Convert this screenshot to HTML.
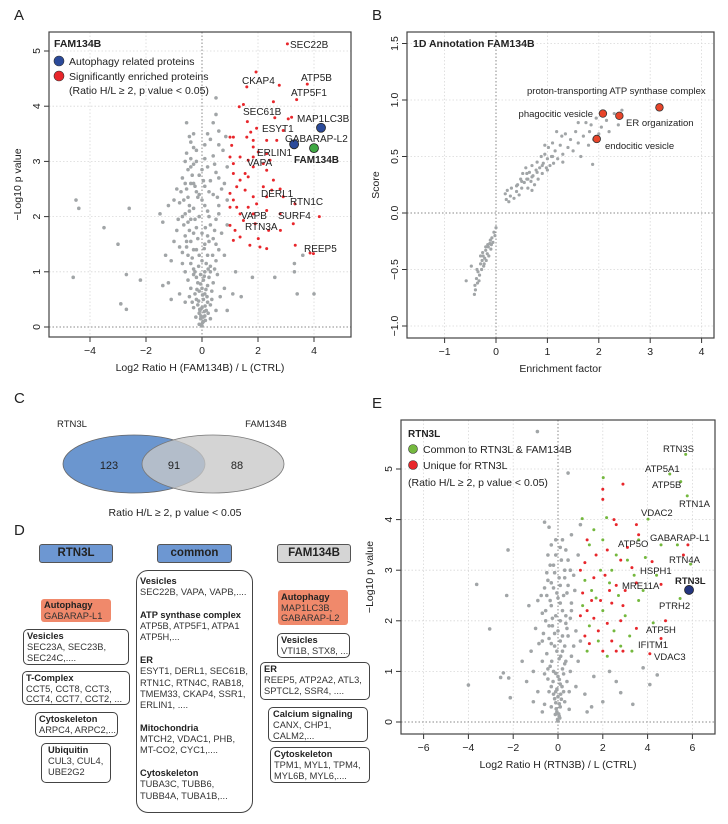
<!DOCTYPE html>
<html><head><meta charset="utf-8">
<style>
body{margin:0;background:#fff;}
#wrap{position:relative;width:728px;height:824px;overflow:hidden;font-family:"Liberation Sans",sans-serif;color:#222;}
svg{position:absolute;left:0;top:0;}
.bx{position:absolute;box-sizing:border-box;border:1px solid #444;border-radius:5px;font-size:9.3px;line-height:11.2px;padding:1px 3px;color:#333;background:#fff;white-space:nowrap;}
.bx b{color:#222;}
.hd{position:absolute;box-sizing:border-box;border:1px solid #555;border-radius:3px;font-weight:bold;font-size:11.5px;text-align:center;line-height:17px;color:#222;}
.au{background:#f0896b;border:none;border-radius:3px;}
</style></head><body>
<div id="wrap">
<svg id="svg" width="728" height="824"></svg>

<div class="hd" style="left:39px;top:544px;width:74px;height:19px;background:#6d97d2;">RTN3L</div>
<div class="hd" style="left:157px;top:544px;width:75px;height:19px;background:#6d97d2;">common</div>
<div class="hd" style="left:277px;top:544px;width:74px;height:19px;background:#d5d5d5;">FAM134B</div>

<div class="bx au" style="left:41px;top:599px;width:70px;height:23px;line-height:10.5px;"><b>Autophagy</b><br>GABARAP-L1</div>
<div class="bx" style="left:23px;top:629px;width:106px;height:36px;line-height:10.8px;"><b>Vesicles</b><br>SEC23A, SEC23B,<br>SEC24C,....</div>
<div class="bx" style="left:22px;top:671px;width:108px;height:34px;line-height:10.5px;"><b>T-Complex</b><br>CCT5, CCT8, CCT3,<br>CCT4, CCT7, CCT2, ...</div>
<div class="bx" style="left:35px;top:712px;width:83px;height:25px;line-height:10.5px;"><b>Cytoskeleton</b><br>ARPC4, ARPC2,...</div>
<div class="bx" style="left:41px;top:743px;width:70px;height:40px;padding-left:6px;"><b>Ubiquitin</b><br>CUL3, CUL4,<br>UBE2G2</div>

<div class="bx" style="left:136px;top:570px;width:117px;height:243px;border-radius:12px;padding:5px 3px;line-height:11.3px;"><b>Vesicles</b><br>SEC22B, VAPA, VAPB,....<br><br><b>ATP synthase complex</b><br>ATP5B, ATP5F1, ATPA1<br>ATP5H,...<br><br><b>ER</b><br>ESYT1, DERL1, SEC61B,<br>RTN1C, RTN4C, RAB18,<br>TMEM33, CKAP4, SSR1,<br>ERLIN1, ....<br><br><b>Mitochondria</b><br>MTCH2, VDAC1, PHB,<br>MT-CO2, CYC1,....<br><br><b>Cytoskeleton</b><br>TUBA3C, TUBB6,<br>TUBB4A, TUBA1B,...</div>

<div class="bx au" style="left:278px;top:590px;width:70px;height:35px;line-height:10.5px;padding-top:2px;"><b>Autophagy</b><br>MAP1LC3B,<br>GABARAP-L2</div>
<div class="bx" style="left:277px;top:633px;width:73px;height:25px;line-height:10.5px;"><b>Vesicles</b><br>VTI1B, STX8, ....</div>
<div class="bx" style="left:260px;top:662px;width:110px;height:38px;"><b>ER</b><br>REEP5, ATP2A2, ATL3,<br>SPTCL2, SSR4, ....</div>
<div class="bx" style="left:268px;top:707px;width:100px;height:35px;line-height:10.8px;padding-left:4px;"><b>Calcium signaling</b><br>CANX, CHP1,<br>CALM2,...</div>
<div class="bx" style="left:270px;top:747px;width:100px;height:36px;line-height:10.8px;"><b>Cytoskeleton</b><br>TPM1, MYL1, TPM4,<br>MYL6B, MYL6,....</div>
</div>

<script>
// ---------- Panel A data ----------
const aXTicks=[-4,-2,0,2,4];
const aYTicks=[0,1,2,3,4,5];
const aGray=[[0,0.02],[0.05,0.1],[-0.05,0.15],[0.1,0.2],[-0.1,0.25],[0.15,0.3],[0,0.35],[-0.15,0.4],[0.2,0.45],[0.05,0.5],[-0.2,0.5],[0.3,0.4],[-0.3,0.35],[0.5,0.3],[0.9,0.3],[-0.6,0.45],[0.3,0.15],[-0.1,0.05],[0.08,0.28],[0.02,0.08],[-0.04,0.2],[0.12,0.12],[-0.08,0.32],
[-0.25,0.6],[0.1,0.6],[0.35,0.65],[-0.4,0.7],[0,0.7],[0.2,0.75],[-0.15,0.8],[0.4,0.8],[-0.5,0.85],[0.05,0.85],[0.25,0.9],[-0.3,0.95],[0.55,0.95],[0.1,1.0],[-0.6,1.0],[-1.2,0.8],[-2.2,0.85],[-1.1,0.5],[0.8,0.7],[1.1,0.6],[-0.8,0.6],[0.65,0.55],[-0.45,0.55],[-0.1,0.65],[0.18,0.55],[-0.2,0.9],[0.3,1.0],[-0.05,0.95],
[-0.3,1.05],[0.3,1.1],[-0.7,1.15],[0.0,1.2],[0.5,1.2],[-0.5,1.3],[0.2,1.3],[-0.2,1.4],[0.6,1.4],[-0.8,1.45],[0.1,1.5],[-0.4,1.55],[0.4,1.6],[-0.6,1.65],[0.0,1.7],[0.7,1.7],[-0.9,1.75],[-0.2,1.8],[0.3,1.85],[-0.5,1.9],[0.5,1.95],[-0.1,2.0],[-1.0,1.55],[0.8,1.3],[-1.3,1.3],[0.9,1.85],[-0.7,2.0],[1.2,1.0],[2.6,0.9],[3.3,1.0],[3.6,1.3],[4.0,0.6],[-1.4,1.9],[-0.35,1.25],[0.15,1.15],[-0.55,1.45],[0.25,1.55],[-0.3,1.7],[0.45,1.75],[-0.4,1.95],
[-0.6,2.05],[0.2,2.1],[-0.3,2.15],[0.6,2.2],[-0.8,2.25],[0.0,2.3],[-0.5,2.35],[0.4,2.4],[-0.2,2.45],[-0.9,2.5],[0.7,2.5],[0.1,2.55],[-0.4,2.6],[0.3,2.65],[-0.7,2.7],[-0.1,2.75],[0.5,2.8],[-0.5,2.85],[0.2,2.9],[-0.3,2.95],[0.8,2.6],[-1.0,2.3],[0.9,2.9],[-0.6,3.0],[-0.45,2.2],[0.55,2.35],[-0.25,2.55],[0.6,2.7],
[-0.4,3.05],[0.4,3.1],[-0.2,3.2],[0.6,3.3],[-0.4,3.35],[0.3,3.4],[-0.3,3.5],[0.6,3.55],[-0.55,3.7],[0.5,3.85],[0.4,3.7],[0.5,4.15],[0.1,3.3],[-0.1,2.4],[0.75,3.2],[0.85,3.45],
[-4.6,0.9],[-4.5,2.3],[-4.4,2.15],[-3.5,1.8],[-3.0,1.5],[-2.6,2.15],[-2.7,0.95],[-2.9,0.42],[-2.7,0.32],[-1.5,2.05],[-1.4,0.75],[-1.2,2.2],[-1.1,1.2],[0.9,2.3],[3.4,0.6],[1.4,0.55],[3.3,1.15],[1.8,0.9]];
const aCore=[[-0.02,0.04],[0.04,0.18],[-0.07,0.3],[0.11,0.38],[-0.12,0.47],[0.02,0.58],[-0.18,0.68],[0.14,0.68],[-0.05,0.78],[0.08,0.92],[-0.25,1.0],[0.22,1.05],[-0.12,1.1],[-0.4,1.15],[0.38,1.3],[-0.1,1.3],[-0.3,1.4],[0.08,1.42],[-0.55,1.55],[-0.15,1.6],[0.2,1.65],[-0.45,1.75],[0.12,1.8],[-0.65,1.85],[-0.25,1.95],[0.25,2.0],[-0.45,2.1],[0.1,2.2],[-0.65,2.3],[-0.15,2.35],[0.25,2.45],[-0.55,2.5],[-0.3,2.6],[0.05,2.65],[-0.6,2.6],[-0.35,2.75],[0.0,2.85],[-0.4,2.9],[-0.2,3.0],[0.1,3.05],[-0.55,3.15],[-0.3,3.25],[0.2,3.5],[-0.45,3.45],[0.45,2.95],[0.6,2.05],[0.5,1.5],[0.45,1.05],[-0.7,1.35],[-0.85,1.95],[-0.75,2.45],[0.35,0.5],[-0.35,0.45],[0.22,0.25],[-0.22,0.18]];
const aRed=[[3.05,5.13],[1.93,4.62],[1.6,4.35],[2.76,4.38],[3.38,4.12],[3.76,4.4],[2.55,4.08],[1.33,3.99],[1.48,4.03],[2.6,3.79],[3.08,3.77],[3.2,3.8],[1.62,3.72],[1.95,3.6],[1.74,3.53],[2.9,3.56],[1.0,3.44],[1.12,3.44],[1.6,3.44],[1.83,3.38],[2.31,3.38],[2.67,3.38],[1.06,3.29],[1.83,3.26],[2.01,3.17],[2.31,3.14],[1.0,3.08],[1.36,3.08],[2.43,3.02],[1.65,3.02],[2.19,2.96],[1.83,2.9],[2.31,2.84],[1.12,2.96],[1.54,2.78],[1.12,2.78],[1.36,2.66],[1.65,2.72],[1.24,2.54],[1.0,2.42],[1.54,2.48],[2.19,2.54],[2.49,2.48],[2.79,2.5],[1.12,2.3],[1.0,2.17],[1.83,2.36],[2.31,2.36],[2.9,2.36],[3.32,2.23],[1.36,2.05],[1.83,2.05],[2.31,2.11],[2.79,2.05],[4.19,2.0],[1.0,1.84],[1.48,1.93],[1.9,1.87],[2.38,1.75],[2.8,1.75],[3.26,1.87],[1.12,1.57],[1.36,1.63],[1.71,1.48],[2.01,1.6],[2.31,1.42],[3.33,1.48],[3.86,1.34],[3.98,1.33],[1.18,1.75],[2.07,1.45],[1.95,2.23],[1.65,2.17],[1.24,2.17],[2.55,2.66],[1.83,3.08]];
const aBlue=[[3.29,3.31],[4.25,3.61]];
const aGreen=[[4.0,3.24]];
const aLabels=[["SEC22B",290,48],["CKAP4",242,84],["ATP5B",301,81],["ATP5F1",291,96],["SEC61B",243,115],["MAP1LC3B",297,122],["ESYT1",262,132],["GABARAP-L2",285,142],["ERLIN1",257,156],["VAPA",247,166],["DERL1",261,197],["RTN1C",290,205],["SURF4",278,219],["VAPB",241,219],["RTN3A",245,230],["REEP5",304,252]];
// ---------- Panel B data ----------
const bXTicks=[-1,0,1,2,3,4];
const bYTicks=[-1.0,-0.5,0.0,0.5,1.0,1.5];
const bGray=[[-0.58,-0.6],[-0.48,-0.47],[-0.42,-0.72],[-0.4,-0.68],[-0.38,-0.58],[-0.36,-0.62],[-0.35,-0.52],[-0.32,-0.55],[-0.3,-0.45],[-0.28,-0.5],[-0.27,-0.42],[-0.25,-0.38],[-0.24,-0.47],[-0.22,-0.4],[-0.2,-0.33],[-0.19,-0.42],[-0.17,-0.36],[-0.15,-0.3],[-0.14,-0.38],[-0.12,-0.27],[-0.1,-0.32],[-0.08,-0.22],[-0.06,-0.26],[-0.04,-0.17],[-0.02,-0.2],[0.0,-0.13],[-0.33,-0.6],[-0.26,-0.35],[-0.16,-0.28],[-0.11,-0.24],[-0.37,-0.5],[-0.3,-0.38],[-0.2,-0.3],[-0.09,-0.28],[-0.23,-0.45],[-0.41,-0.64],
[0.18,0.17],[0.2,0.12],[0.22,0.2],[0.25,0.1],[0.28,0.15],[0.3,0.22],[0.35,0.13],[0.4,0.19],[0.42,0.25],[0.45,0.16],[0.48,0.3],[0.5,0.22],[0.52,0.35],[0.55,0.27],[0.58,0.4],[0.6,0.3],[0.62,0.22],[0.65,0.36],[0.68,0.28],[0.7,0.42],[0.72,0.33],[0.75,0.25],[0.78,0.38],[0.8,0.45],[0.82,0.3],[0.85,0.4],[0.88,0.5],[0.9,0.35],[0.92,0.44],[0.95,0.52],[0.98,0.4],[1.0,0.48],[1.02,0.58],[1.05,0.42],[1.08,0.5],[1.1,0.62],[1.12,0.44],[1.15,0.55],[1.18,0.72],[1.2,0.48],[1.25,0.6],[1.28,0.68],[1.3,0.52],[1.35,0.7],[1.4,0.58],[1.45,0.65],[1.5,0.55],[1.55,0.72],[1.6,0.62],[1.65,0.5],[1.7,0.68],[1.75,0.8],[1.8,0.6],[1.82,0.72],[1.85,0.78],[1.88,0.43],[1.9,0.65],[1.95,0.84],[2.0,0.7],[2.05,0.76],[2.15,0.82],[2.2,0.72],[2.3,0.88],[2.38,0.78],[2.45,0.91],[1.0,0.38],[0.7,0.2],[1.3,0.45],[1.6,0.8],[0.95,0.6],[0.6,0.35],[0.7,0.32],[0.8,0.36],[0.5,0.28],[0.4,0.24],[0.62,0.3],[0.9,0.42],[1.1,0.5]];
const bRed=[[2.08,0.88],[2.4,0.86],[1.96,0.655],[3.18,0.935]];
// ---------- Panel E data ----------
const eXTicks=[-6,-4,-2,0,2,4,6];
const eYTicks=[0,1,2,3,4,5];
const eGray=[[0,0.02],[0.05,0.12],[-0.05,0.2],[0.1,0.3],[-0.1,0.38],[0.15,0.45],[0,0.5],[-0.2,0.55],[0.25,0.6],[-0.05,0.65],[0.3,0.4],[-0.3,0.3],[0.5,0.25],[-0.6,0.35],[0.08,0.08],[-0.12,0.15],
[-0.3,0.7],[0.1,0.75],[0.4,0.8],[-0.45,0.85],[0,0.9],[0.25,0.95],[-0.2,1.0],[0.55,1.0],[-0.6,0.95],[0.8,0.7],[-0.9,0.6],[-1.1,0.4],[1.2,0.55],[1.5,0.3],[-0.7,0.2],
[-0.35,1.1],[0.3,1.15],[-0.7,1.2],[0.05,1.25],[0.6,1.3],[-0.5,1.35],[0.2,1.4],[-0.15,1.5],[0.7,1.5],[-0.85,1.55],[0.1,1.6],[-0.4,1.65],[0.45,1.7],[-0.65,1.75],[0.0,1.8],[0.8,1.8],[-1.0,1.85],[-0.25,1.9],[0.35,1.95],[-0.55,2.0],[0.55,2.05],[-1.2,1.4],[0.9,1.2],[-1.4,0.8],[1.0,1.6],
[-0.1,2.1],[-0.7,2.15],[0.2,2.2],[-0.3,2.3],[0.6,2.35],[-0.9,2.4],[0.0,2.45],[-0.5,2.5],[0.4,2.55],[-0.2,2.65],[0.75,2.6],[0.1,2.7],[-0.45,2.8],[0.3,2.85],[-0.15,2.95],[0.55,3.0],[-0.35,3.1],[0.15,3.2],[-0.1,3.3],[0.35,3.4],[-0.3,3.5],[0.2,3.6],[0.6,3.7],[-0.4,3.85],[0.9,3.3],[1.0,3.9],[-1.3,2.3],[-1.1,1.0],
[-3.63,2.72],[-2.23,3.4],[-2.29,2.5],[-3.05,1.84],[-0.92,5.74],[0.45,4.92],[-4.0,0.73],[-2.44,0.97],[-2.56,0.88],[-2.2,0.87],[-2.13,0.48],[4.43,0.93],[4.1,0.74],[3.34,0.35],[2.8,0.58],[3.8,1.07],[-0.6,3.95],[1.6,0.9],[2.0,0.4],[2.3,1.0],[1.3,0.2],[-1.6,1.2],[2.6,0.8]];
const eCore=[[-0.02,0.05],[0.03,0.16],[-0.08,0.26],[0.06,0.36],[-0.15,0.46],[0.12,0.55],[-0.1,0.6],[0.18,0.7],[-0.22,0.8],[0.06,0.84],[-0.1,0.96],[0.2,1.05],[-0.28,1.2],[0.12,1.3],[-0.05,1.4],[0.3,1.5],[-0.3,1.55],[0.2,1.7],[-0.15,1.75],[0.4,1.85],[-0.4,1.9],[0.1,2.0],[-0.25,2.05],[0.35,2.1],[-0.55,2.2],[0.1,2.35],[-0.35,2.4],[0.25,2.5],[-0.05,2.55],[-0.6,2.65],[0.45,2.7],[-0.3,2.75],[0.05,2.85],[-0.5,2.95],[0.3,3.0],[-0.2,3.1],[0.45,3.2],[-0.45,3.3],[0.1,3.45],[-0.1,3.6],[0.35,1.2],[-0.45,1.05],[0.5,0.6],[-0.4,0.6],[0.6,2.2],[-0.7,1.6],[0.7,2.9],[-0.75,2.5]];
const eGreen=[[5.7,5.29],[4.99,4.9],[5.48,4.75],[5.77,4.47],[4.02,4.01],[2.02,4.83],[1.08,4.02],[2.17,4.04],[5.33,3.5],[5.92,3.12],[5.45,2.44],[4.25,1.96],[1.6,3.8],[2.0,3.6],[1.4,3.5],[2.6,3.3],[3.1,3.2],[1.9,3.0],[1.2,2.8],[2.3,2.75],[3.4,2.9],[1.5,2.6],[2.7,2.5],[3.6,2.4],[1.1,2.3],[2.0,2.2],[3.0,2.1],[1.4,1.9],[2.5,1.8],[3.2,1.7],[1.8,1.6],[2.8,1.5],[3.3,1.4],[1.3,1.4],[2.2,1.3],[3.6,3.6],[4.6,3.5],[4.4,2.9],[3.8,2.6],[1.7,2.45],[2.4,3.0],[3.9,3.25]];
const eRed=[[2.0,4.6],[2.9,4.7],[2.0,4.4],[2.5,4.0],[2.6,3.9],[3.5,3.9],[3.6,3.7],[5.8,3.5],[5.6,3.3],[4.2,3.17],[4.6,2.72],[4.8,2.0],[4.6,1.65],[4.1,1.35],[3.5,1.85],[1.0,3.0],[1.3,3.6],[1.7,3.3],[2.2,3.4],[2.8,3.2],[3.3,3.05],[1.2,3.15],[1.6,2.85],[2.1,2.9],[2.6,2.7],[3.0,2.6],[1.1,2.55],[1.5,2.4],[1.9,2.4],[2.4,2.35],[2.9,2.3],[1.0,2.1],[1.6,2.05],[2.2,1.95],[2.8,2.0],[1.2,1.7],[1.8,1.8],[2.4,1.6],[1.4,1.55],[2.0,1.4],[2.6,1.4],[2.9,1.4],[3.1,3.45],[2.3,2.6],[3.5,2.75],[1.3,2.2]];
const eBlue=[[5.85,2.61]];
const eLabels=[["RTN3S",663,452],["ATP5A1",645,472],["ATP5B",652,488],["RTN1A",679,507],["VDAC2",641,516],["GABARAP-L1",650,541],["ATP5O",618,547],["RTN4A",669,563],["HSPH1",640,574],["MRE11A",622,589],["PTRH2",659,609],["ATP5H",646,633],["IFITM1",638,648],["VDAC3",654,660]];

const NS="http://www.w3.org/2000/svg";
const svg=document.getElementById('svg');
function el(tag,attrs,parent){const e=document.createElementNS(NS,tag);for(const k in attrs)e.setAttribute(k,attrs[k]);(parent||svg).appendChild(e);return e;}
function txt(s,x,y,opt,parent){const t=el('text',Object.assign({x:x,y:y,'font-family':'Liberation Sans, sans-serif','font-size':10.5,fill:'#222'},opt||{}),parent);t.textContent=s;return t;}

function panel(cfg){
  const g=el('g',{});
  
  
  const sx=v=>cfg.x0+v*cfg.kx, sy=v=>cfg.y0-v*cfg.ky;
  cfg.xt.forEach(v=>{const l=el('line',{x1:sx(v),x2:sx(v),y1:cfg.top,y2:cfg.bot,stroke:v===0?'#888':'#d8d8d8','stroke-dasharray':'1.5,2','stroke-width':v===0?1:0.8},g);});
  cfg.yt.forEach(v=>{const l=el('line',{x1:cfg.left,x2:cfg.right,y1:sy(v),y2:sy(v),stroke:v===0?'#888':'#d8d8d8','stroke-dasharray':'1.5,2','stroke-width':v===0?1:0.8},g);});
  cfg.xt.forEach(v=>{el('line',{x1:sx(v),x2:sx(v),y1:cfg.bot,y2:cfg.bot+5,stroke:'#333'},g);
    const t=txt(String(v).replace('-','−'),sx(v),cfg.bot+17,{'text-anchor':'middle'},g);});
  cfg.yt.forEach(v=>{el('line',{x1:cfg.left-5,x2:cfg.left,y1:sy(v),y2:sy(v),stroke:'#333'},g);
    const s=(cfg.yfmt?v.toFixed(1):String(v)).replace('-','−');
    const t=txt(s,cfg.left-9,sy(v),{'text-anchor':'middle',transform:`rotate(-90 ${cfg.left-9} ${sy(v)})`},g);});
  const pts=(arr,fill,r,name,stroke)=>arr.forEach(p=>{const c=el('circle',{cx:sx(p[0]),cy:sy(p[1]),r:r,fill:fill,stroke:stroke||'none','stroke-width':0.8},g);});
  cfg.series.forEach(s=>pts(s[0],s[1],s[2],s[3],s[4]));
  const b=el('rect',{x:cfg.left,y:cfg.top,width:cfg.right-cfg.left,height:cfg.bot-cfg.top,fill:'none',stroke:'#444','stroke-width':1.2},g);
  
  const xt=txt(cfg.xtitle,(cfg.left+cfg.right)/2,cfg.bot+34,{'text-anchor':'middle'},g);
  const yx=cfg.left-28,yy=(cfg.top+cfg.bot)/2;
  const yt=txt(cfg.ytitle,yx,yy,{'text-anchor':'middle',transform:`rotate(-90 ${yx} ${yy})`},g);
  return g;
}
const GR='#a1a5a7',RD='#e8262b',GN='#74b83e',BL='#2b4a9a';
panel({name:'panel-a-volcano',x0:202,kx:28,y0:327,ky:55.2,left:49,right:351,top:32,bot:337,xt:aXTicks,yt:aYTicks,
  xtitle:'Log2 Ratio H (FAM134B) / L (CTRL)',ytitle:'−Log10 p value',
  series:[[aGray,GR,1.8,'gray-point'],[aCore,GR,1.8,'gray-point'],[aRed,RD,1.5,'red-point'],[aBlue,BL,4.5,'autophagy-point','#222'],[aGreen,'#3fa843',4.5,'fam134b-point','#222']]});
panel({name:'panel-b-annotation',x0:496,kx:51.4,y0:213,ky:113,left:407,right:714,top:32,bot:338,xt:bXTicks,yt:bYTicks,yfmt:true,
  xtitle:'Enrichment factor',ytitle:'Score',
  series:[[bGray,GR,1.6,'gray-point'],[bRed,'#e8452a',3.8,'annotation-point','#333']]});
panel({name:'panel-e-volcano',x0:558,kx:22.4,y0:722,ky:50.6,left:401,right:715,top:420,bot:734,xt:eXTicks,yt:eYTicks,
  xtitle:'Log2 Ratio H (RTN3B) / L (CTRL)',ytitle:'−Log10 p value',
  series:[[eGray,GR,1.8,'gray-point'],[eCore,GR,1.8,'gray-point'],[eGreen,GN,1.5,'common-point'],[eRed,RD,1.5,'unique-point'],[eBlue,'#23357f',4.5,'rtn3l-point','#222']]});

function lab(s,x,y,name,o){const t=txt(s,x,y,Object.assign({'font-size':10},o||{}));return t;}
lab('A',14,20,'panel-letter-a',{'font-size':15});lab('B',372,20,'panel-letter-b',{'font-size':15});
lab('C',14,403,'panel-letter-c',{'font-size':15});lab('D',14,535,'panel-letter-d',{'font-size':15});lab('E',372,408,'panel-letter-e',{'font-size':15});
lab('FAM134B',54,47,'legend-title-a',{'font-weight':'bold','font-size':10.5});
let c=el('circle',{cx:59,cy:61,r:5,fill:BL,stroke:'#333','stroke-width':0.6});
lab('Autophagy related proteins',69,65,'legend-entry-autophagy',{'font-size':10.5});
c=el('circle',{cx:59,cy:76,r:5,fill:RD,stroke:'#333','stroke-width':0.6});
lab('Significantly enriched  proteins',69,80,'legend-entry-enriched',{'font-size':10.5});
lab('(Ratio H/L ≥ 2, p value < 0.05)',69,94,'legend-criteria-a',{'font-size':10.5});
aLabels.forEach(l=>lab(l[0],l[1],l[2],'point-label'));
lab('FAM134B',294,163,'fam134b-label',{'font-weight':'bold'});
lab('1D Annotation FAM134B',413,47,'panel-b-title',{'font-weight':'bold','font-size':10.5});
lab('proton-transporting ATP synthase complex',527,94,'label-proton',{'font-size':9.5});
lab('phagocitic vesicle',593,117,'label-phagocitic',{'font-size':9.5,'text-anchor':'end'});
lab('ER organization',626,126,'label-er-organization',{'font-size':9.5});
lab('endocitic vesicle',605,149,'label-endocitic',{'font-size':9.5});
let e1=el('ellipse',{cx:134,cy:464,rx:71,ry:29,fill:'#6b96cf',stroke:'#666','stroke-width':0.8});
let e2=el('ellipse',{cx:213,cy:464,rx:71,ry:29,fill:'rgba(200,200,200,0.78)',stroke:'#777','stroke-width':0.8});
lab('RTN3L',72,427,'venn-label-rtn3l',{'font-size':9.5,'text-anchor':'middle'});
lab('FAM134B',266,427,'venn-label-fam134b',{'font-size':9.5,'text-anchor':'middle'});
lab('123',109,469,'venn-count-rtn3l',{'font-size':11,'text-anchor':'middle'});
lab('91',174,469,'venn-count-common',{'font-size':11,'text-anchor':'middle'});
lab('88',237,469,'venn-count-fam134b',{'font-size':11,'text-anchor':'middle'});
lab('Ratio H/L ≥ 2, p value < 0.05',175,516,'venn-caption',{'font-size':10.5,'text-anchor':'middle'});
lab('RTN3L',408,437,'legend-title-e',{'font-weight':'bold','font-size':10});
c=el('circle',{cx:413,cy:449,r:4.5,fill:GN,stroke:'#333','stroke-width':0.6});
lab('Common to RTN3L & FAM134B',423,453,'legend-entry-common',{'font-size':10.5});
c=el('circle',{cx:413,cy:465,r:4.5,fill:RD,stroke:'#333','stroke-width':0.6});
lab('Unique for RTN3L',423,469,'legend-entry-unique',{'font-size':10.5});
lab('(Ratio H/L ≥ 2, p value < 0.05)',408,486,'legend-criteria-e',{'font-size':10.5});
eLabels.forEach(l=>lab(l[0],l[1],l[2],'point-label',{'font-size':9.5}));
lab('RTN3L',675,584,'rtn3l-label',{'font-weight':'bold','font-size':9.5});
</script>
</body></html>
